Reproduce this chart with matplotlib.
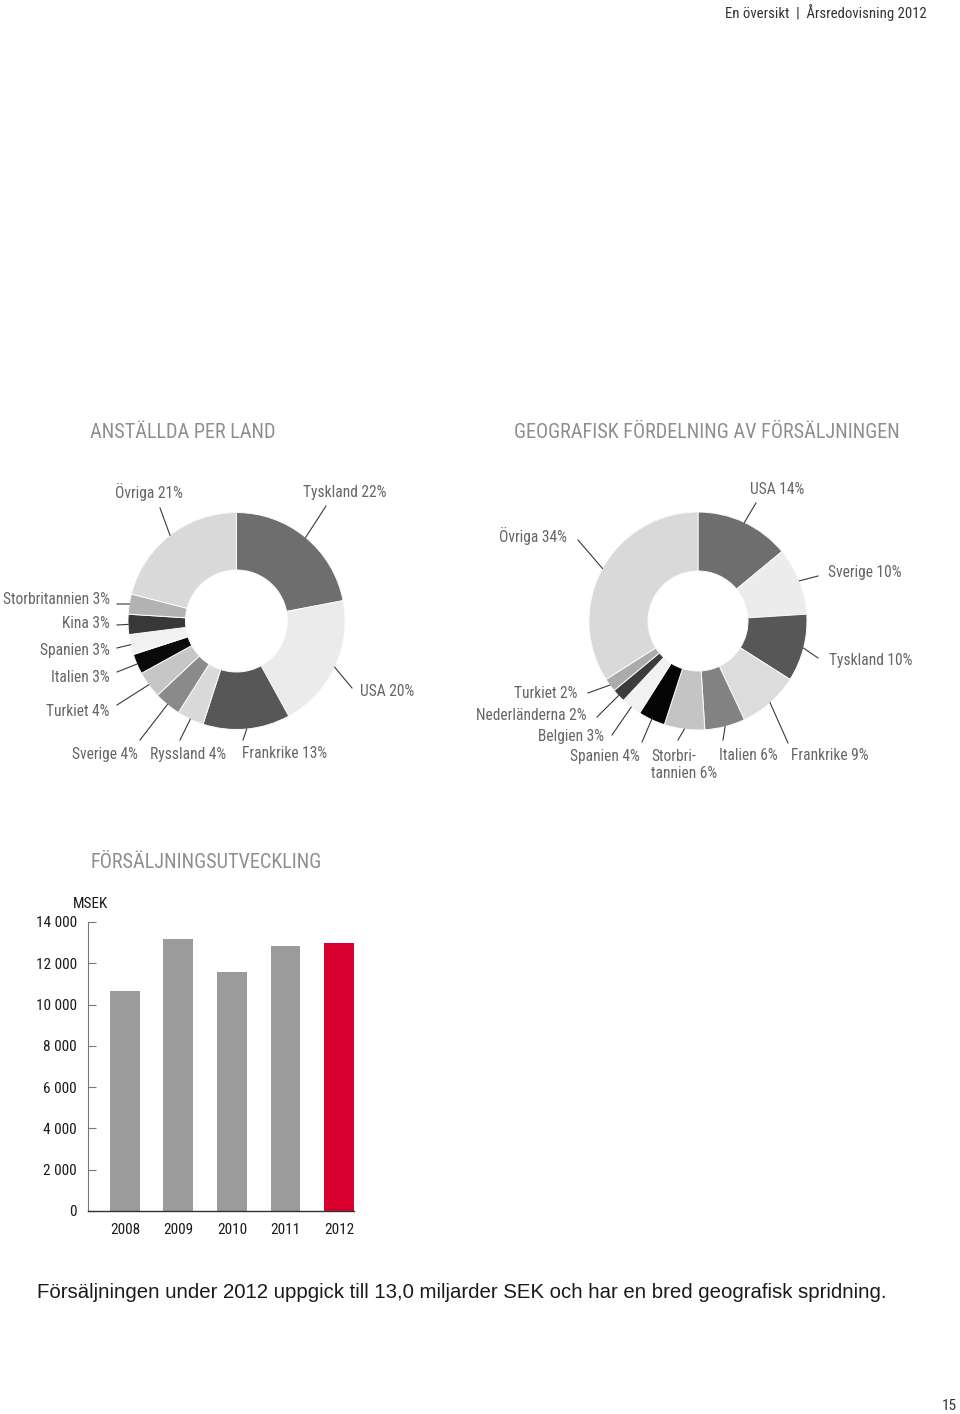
import matplotlib
matplotlib.use("Agg")
import matplotlib.pyplot as plt
import numpy as np

W, H = 960, 1414
COND = ["Roboto Condensed", "DejaVu Sans"]
plt.rcParams["font.family"] = COND

# --- data -------------------------------------------------------------
staff_countries = ["Tyskland", "USA", "Frankrike", "Ryssland", "Sverige", "Turkiet",
                   "Italien", "Spanien", "Kina", "Storbritannien", "Övriga"]
staff_share = [22, 20, 13, 4, 4, 4, 3, 3, 3, 3, 21]
staff_colors = ["#6e6e6e", "#ebebeb", "#575757", "#dadada", "#8a8a8a", "#c6c6c6",
                "#0a0a0a", "#f1f1f1", "#383838", "#b3b3b3", "#d9d9d9"]

sales_countries = ["USA", "Sverige", "Tyskland", "Frankrike", "Italien", "Storbritannien",
                   "Spanien", "Belgien", "Nederländerna", "Turkiet", "Övriga"]
sales_share = [14, 10, 10, 9, 6, 6, 4, 3, 2, 2, 34]
sales_colors = ["#6e6e6e", "#ececec", "#575757", "#dcdcdc", "#828282", "#c4c4c4",
                "#050505", "#f1f1f1", "#3c3c3c", "#ababab", "#d9d9d9"]

years = ["2008", "2009", "2010", "2011", "2012"]
sales_msek = [10660, 13160, 11560, 12840, 13000]
yticks = [0, 2000, 4000, 6000, 8000, 10000, 12000, 14000]

# --- label layout (pixel positions: text x, y, align, leader end x, y) -
staff_labels = {
    "Övriga": (149, 492, "center", 160, 508),
    "Tyskland": (345, 492, "center", 326, 506),
    "Storbritannien": (110, 599, "right", 117, 604),
    "Kina": (110, 624, "right", 117, 625),
    "Spanien": (110, 650, "right", 117, 648),
    "Italien": (110, 678, "right", 117, 672),
    "Turkiet": (110, 712, "right", 117, 705),
    "Sverige": (105, 754, "center", 140, 740),
    "Ryssland": (188, 754, "center", 180, 740),
    "Frankrike": (285, 754, "center", 243, 740),
    "USA": (387, 692, "center", 352, 688),
}
sales_labels = {
    "USA": (777, 489, "center", 756, 503),
    "Övriga": (533, 536, "center", 578, 540),
    "Sverige": (828, 572, "left", 818, 576),
    "Tyskland": (829, 661, "left", 818, 658),
    "Frankrike": (791, 756, "left", 788, 743),
    "Italien": (748, 756, "center", 723, 740),
    "Storbritannien": (651, 765, "left", 678, 740),
    "Spanien": (640, 756, "right", 642, 742),
    "Belgien": (604, 736, "right", 612, 735),
    "Nederländerna": (587, 715, "right", 597, 717),
    "Turkiet": (578, 693, "right", 588, 693),
}

LABEL_COLOR = "#666666"
TITLE_COLOR = "#8e8e8e"
LABEL_SIZE = 11.2

fig = plt.figure(figsize=(W / 100, H / 100), dpi=100)
ov = fig.add_axes([0, 0, 1, 1])
ov.axis("off")


def Y(y):
    return H - y


def donut(names, shares, colors, labels, cx, cy, r_out, r_in, split_long=False):
    ov.pie(shares, colors=colors, startangle=90, counterclock=False,
           center=(cx, Y(cy)), radius=r_out, frame=True,
           wedgeprops=dict(width=r_out - r_in, edgecolor="#fafafa", linewidth=0.7))
    total = float(sum(shares))
    cum = 0.0
    for name, share in zip(names, shares):
        mid = 90 - 360 * (cum + share / 2) / total
        cum += share
        tx, ty, ha, ex, ey = labels[name]
        sx = cx + r_out * np.cos(np.radians(mid))
        sy = cy - r_out * np.sin(np.radians(mid))
        ov.plot([sx, ex], [Y(sy), Y(ey)], color="#3a3a3a", lw=0.8)
        text = f"{name} {share}%"
        if split_long and name == "Storbritannien":
            text = f"Storbri-\ntannien {share}%"
        ov.text(tx, Y(ty), text, ha=ha, va="center", fontsize=LABEL_SIZE,
                color=LABEL_COLOR, linespacing=1.2)


donut(staff_countries, staff_share, staff_colors, staff_labels, 236.5, 621, 108.5, 51)
donut(sales_countries, sales_share, sales_colors, sales_labels, 698, 621, 109, 50,
      split_long=True)
ov.set_xlim(0, W)
ov.set_ylim(0, H)
ov.set_aspect("equal")

# titles and page text
ov.text(90, Y(432), "ANSTÄLLDA PER LAND", fontsize=14.6, color=TITLE_COLOR, va="center")
ov.text(514, Y(432), "GEOGRAFISK FÖRDELNING AV FÖRSÄLJNINGEN", fontsize=14.6,
        color=TITLE_COLOR, va="center")
ov.text(90, Y(862), "FÖRSÄLJNINGSUTVECKLING", fontsize=14.6, color=TITLE_COLOR, va="center")
ov.text(927, Y(13), "En översikt  |  Årsredovisning 2012", fontsize=10.6, color="#333333",
        ha="right", va="center")
ov.text(37, Y(1293), "Försäljningen under 2012 uppgick till 13,0 miljarder SEK och har en bred geografisk spridning.",
        fontsize=14.7, color="#1a1a1a", va="center", family=["Liberation Sans", "DejaVu Sans"])
ov.text(957, Y(1406), "15", fontsize=11, color="#333333", ha="right", va="center")
ov.text(108, Y(904), "MSEK", fontsize=11, color="#1a1a1a", ha="right", va="center")

# --- bar chart --------------------------------------------------------
x0, x1, yb, yt = 88, 354, 1211, 922
ax = fig.add_axes([x0 / W, (H - yb) / H, (x1 - x0) / W, (yb - yt) / H])
pos = np.arange(len(years))
bar_colors = ["#9b9b9b"] * (len(years) - 1) + ["#d9002f"]
ax.bar(pos, sales_msek, width=0.56, color=bar_colors)
ax.set_xlim(-0.69, len(years) - 1 + 0.28)
ax.set_ylim(0, 14000)
ax.set_yticks(yticks)
ax.set_yticklabels([f"{v:,}".replace(",", " ") for v in yticks])
ax.set_xticks(pos)
ax.set_xticklabels(years)
for s in ["top", "right"]:
    ax.spines[s].set_visible(False)
ax.spines["left"].set_color("#777777")
ax.spines["bottom"].set_color("#333333")
ax.spines["left"].set_linewidth(0.8)
ax.spines["bottom"].set_linewidth(1.0)
ax.tick_params(axis="y", direction="in", length=6, width=0.8, color="#777777",
               labelsize=11, labelcolor="#1a1a1a", pad=8)
ax.tick_params(axis="x", length=0, labelsize=11, labelcolor="#1a1a1a", pad=9)

fig.savefig("out.png", dpi=100)
